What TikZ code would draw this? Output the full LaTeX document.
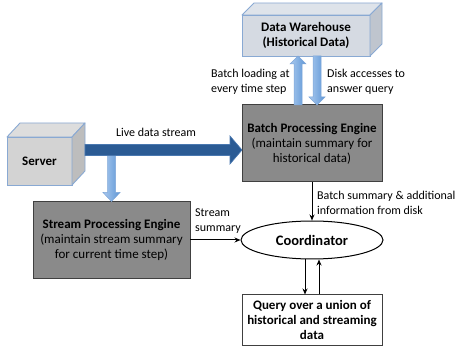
\documentclass[tikz,border=0pt]{standalone}
\usepackage{fontspec}
\setmainfont{Carlito}
\usetikzlibrary{arrows.meta,shapes.geometric,calc}
\definecolor{greybox}{HTML}{8A8A8A}
\definecolor{greyedge}{HTML}{404040}
\definecolor{srvfront}{HTML}{D3D3D3}
\definecolor{srvtop}{HTML}{DDDDDD}
\definecolor{srvside}{HTML}{BDBDBD}
\definecolor{dwfront}{HTML}{D5DAE2}
\definecolor{dwtop}{HTML}{DEE3EA}
\definecolor{dwside}{HTML}{BFC5CE}
\definecolor{cubeedge}{HTML}{89A9D3}
\definecolor{darkarrow}{HTML}{2B5B94}
\definecolor{darkarrowedge}{HTML}{4A78B0}
\definecolor{lightA}{HTML}{A9C8EE}
\definecolor{lightB}{HTML}{5E97D6}
\definecolor{lightedge}{HTML}{7EA6D8}
\newcommand\blockv[6]{% start, end, shaft half width, head half width, head length, style
  \path[#6] let \p1=(#1), \p2=(#2), \n1={sign(\y2-\y1)} in
  (\x1-#3,\y1) -- (\x1-#3,{\y2-(\n1)*#5}) -- (\x1-#4,{\y2-(\n1)*#5}) -- (\x1,\y2)
  -- (\x1+#4,{\y2-(\n1)*#5}) -- (\x1+#3,{\y2-(\n1)*#5}) -- (\x1+#3,\y1) -- cycle;}
\newcommand\blockh[6]{%
  \path[#6] let \p1=(#1), \p2=(#2), \n1={sign(\x2-\x1)} in
  (\x1,\y1-#3) -- ({\x2-(\n1)*#5},\y1-#3) -- ({\x2-(\n1)*#5},\y1-#4) -- (\x2,\y1)
  -- ({\x2-(\n1)*#5},\y1+#4) -- ({\x2-(\n1)*#5},\y1+#3) -- (\x1,\y1+#3) -- cycle;}
\begin{document}
\begin{tikzpicture}[x=1pt,y=-1pt,
  boxtext/.style={font=\fontsize{13}{15}\selectfont, align=center},
  lbl/.style={font=\fontsize{12}{14.5}\selectfont, inner sep=0pt},
  engine/.style={boxtext, draw=greyedge, fill=greybox, line width=1pt, inner sep=0pt, outer sep=0pt},
  cubefront/.style={boxtext, draw=cubeedge, line width=0.9pt, inner sep=0pt, outer sep=0pt},
  cubeface/.style={draw=cubeedge, line width=0.9pt, line join=round},
  blk/.style={-{Stealth[length=6pt,width=5pt]}, line width=1pt, black},
  lightarrow/.style={left color=lightA, right color=lightB, draw=lightedge, line width=0.5pt},
  darkar/.style={fill=darkarrow, draw=darkarrowedge, line width=0.6pt}
]
\useasboundingbox (0,0) rectangle (455,347);

% Data warehouse cube
\node[cubefront, fill=dwfront, minimum width=128pt, minimum height=41pt] (dw) at (306,35.5)
  {\textbf{Data Warehouse}\\\textbf{(Historical Data)}};
\path[cubeface, fill=dwtop] (dw.north west) -- ++(12,-12) -- ($(dw.north east)+(12,-12)$) -- (dw.north east) -- cycle;
\path[cubeface, fill=dwside] (dw.north east) -- ++(12,-12) -- ($(dw.south east)+(12,-12)$) -- (dw.south east) -- cycle;

% Server cube
\node[cubefront, fill=srvfront, minimum width=65pt, minimum height=48pt] (server) at (39.5,161)
  {\textbf{Server}};
\path[cubeface, fill=srvtop] (server.north west) -- ++(13,-14) -- ($(server.north east)+(13,-14)$) -- (server.north east) -- cycle;
\path[cubeface, fill=srvside] (server.north east) -- ++(13,-14) -- ($(server.south east)+(13,-14)$) -- (server.south east) -- cycle;

% Engines
\node[engine, minimum width=140pt, minimum height=77pt] (batch) at (312,143.5)
  {\textbf{Batch Processing Engine}\\(maintain summary for\\historical data)};
\node[engine, minimum width=157pt, minimum height=77pt] (spe) at (111.5,240)
  {\textbf{Stream Processing Engine}\\(maintain stream summary\\for current time step)};

% Coordinator
\node[ellipse, draw=black, line width=1pt, fill=white, minimum width=142pt, minimum height=38pt, inner sep=0pt,
  font=\fontsize{14.5}{16}\selectfont] (coord) at (312,240) {\textbf{Coordinator}};

% Query
\node[boxtext, draw=greyedge, line width=1pt, fill=white, minimum width=140pt, minimum height=50pt, inner sep=0pt]
  (query) at (312,320) {\textbf{Query over a union of}\\\textbf{historical and streaming}\\\textbf{data}};

% Live data stream
\coordinate (lsStart) at ($(server.north east)+(13,13)$);
\coordinate (lsEnd) at ($(batch.north west)+(0,45)$);
\coordinate (branch) at ($(spe.north)+(0,-46)$);
\blockv{branch}{spe.north}{4pt}{8.5pt}{9pt}{lightarrow}
\blockh{lsStart}{lsEnd}{5.5pt}{14pt}{12pt}{darkar}
\node[lbl] (lds) at (156,132) {Live data stream};

% DW <-> batch
\coordinate (upS) at ($(batch.north)+(-14,0)$);
\coordinate (dnS) at ($(dw.south)+(11,0)$);
\blockv{upS}{dw.south}{4pt}{8pt}{8pt}{lightarrow}
\blockv{dnS}{batch.north}{4pt}{8pt}{8pt}{lightarrow}
\node[lbl, anchor=west, align=left] (bl) at (211,82) {Batch loading at\\every time step};
\node[lbl, anchor=west, align=left] (da) at (327,82) {Disk accesses to\\answer query};

% Black connectors
\draw[blk] (batch.south) -- (coord.north);
\node[lbl, anchor=west, align=left] (bs) at (317,203) {Batch summary \& additional\\information from disk};
\draw[blk] (spe.east) -- (coord.west);
\node[lbl, anchor=west, align=left] (ss) at (195,221) {Stream\\summary};
\draw[blk] ($(coord.south)+(-7,0)$) -- ($(query.north)+(-7,0)$);
\draw[blk] ($(query.north)+(7,0)$) -- ($(coord.south)+(7,0)$);
\end{tikzpicture}
\end{document}
